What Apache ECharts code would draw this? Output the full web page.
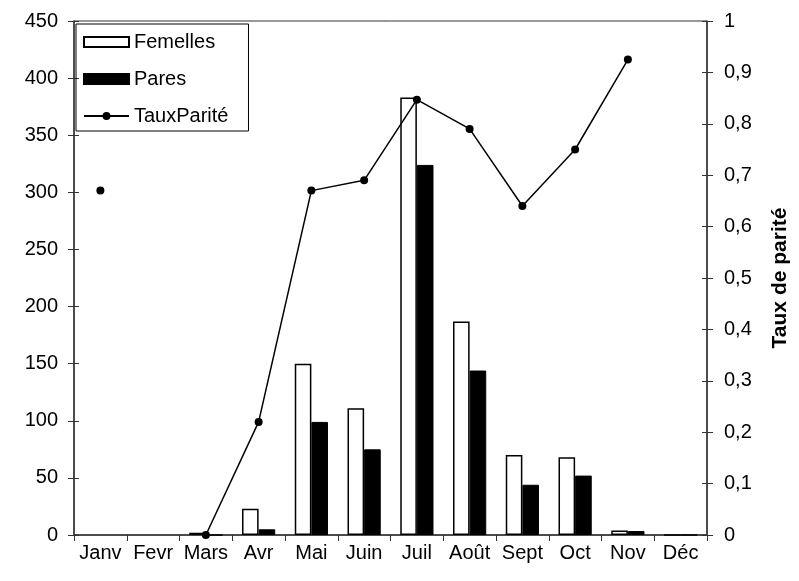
<!DOCTYPE html>
<html>
<head>
<meta charset="utf-8">
<script src="https://cdn.jsdelivr.net/npm/echarts@6/dist/echarts.min.js"></script>
<style>
  html, body { margin: 0; padding: 0; background: #fff; }
  #chart { width: 799px; height: 581px; }
</style>
</head>
<body>
<div id="chart"></div>
<script>
// données
var mois = ['Janv', 'Fevr', 'Mars', 'Avr', 'Mai', 'Juin', 'Juil', 'Août', 'Sept', 'Oct', 'Nov', 'Déc'];
var femelles = [null, null, 2, 23, 150, 111, 383, 187, 70, 68, 4, 0];
var pares = [null, null, 0, 5, 99, 75, 324, 144, 44, 52, 3.5, 0];
var tauxParite = [0.67, null, 0, 0.22, 0.67, 0.69, 0.847, 0.79, 0.64, 0.75, 0.925, null];

var police = 'Liberation Sans, Arial, sans-serif';

var myChart = echarts.init(document.getElementById('chart'));
myChart.setOption({
    animation: false,
    textStyle: { fontFamily: police },
    grid: {
        left: 74, right: 90, top: 21, bottom: 46,
        show: true, borderColor: '#333', borderWidth: 1
    },
    legend: {
        orient: 'vertical',
        left: 76, top: 24,
        padding: [8, 20, 5, 7],
        itemGap: 17,
        itemWidth: 45, itemHeight: 10,
        borderColor: '#000', borderWidth: 1,
        textStyle: { fontSize: 20, color: '#000', fontFamily: police },
        data: [
            { name: 'Femelles', icon: 'rect' },
            { name: 'Pares', icon: 'rect' },
            'TauxParité'
        ]
    },
    xAxis: {
        type: 'category',
        data: mois,
        axisLine: { lineStyle: { color: '#333', width: 1.5 } },
        axisTick: { show: true, length: 6, lineStyle: { color: '#333' } },
        axisLabel: { interval: 0, color: '#000', fontSize: 20, margin: 8 }
    },
    yAxis: [
        {
            type: 'value', min: 0, max: 450, interval: 50,
            splitLine: { show: false },
            axisLine: { show: true, lineStyle: { color: '#333', width: 1.5 } },
            axisTick: { show: true, length: 6, lineStyle: { color: '#333' } },
            axisLabel: { color: '#000', fontSize: 20, margin: 16 }
        },
        {
            type: 'value', min: 0, max: 1, interval: 0.1,
            position: 'right',
            splitLine: { show: false },
            axisLine: { show: true, lineStyle: { color: '#333', width: 1.5 } },
            axisTick: { show: true, length: 6, lineStyle: { color: '#333' } },
            axisLabel: {
                color: '#000', fontSize: 20, margin: 17,
                formatter: function (v) { return String(+v.toFixed(1)).replace('.', ','); }
            },
            name: 'Taux de parité',
            nameLocation: 'middle',
            nameRotate: 90,
            nameGap: 63,
            nameTextStyle: { fontSize: 21, fontWeight: 'bold', color: '#000', fontFamily: police }
        },
        {
            // petites graduations intérieures à gauche
            type: 'value', min: 0, max: 450, interval: 50,
            position: 'left',
            splitLine: { show: false },
            axisLine: { show: false },
            axisTick: { show: true, inside: true, length: 5, lineStyle: { color: '#333' } },
            axisLabel: { show: false }
        },
        {
            // petites graduations intérieures à droite
            type: 'value', min: 0, max: 1, interval: 0.1,
            position: 'right',
            splitLine: { show: false },
            axisLine: { show: false },
            axisTick: { show: true, inside: true, length: 5, lineStyle: { color: '#333' } },
            axisLabel: { show: false }
        }
    ],
    series: [
        {
            name: 'Femelles',
            type: 'bar',
            data: femelles,
            barGap: '0%',
            barCategoryGap: '37%',
            itemStyle: { color: '#fff', borderColor: '#000', borderWidth: 1.5 }
        },
        {
            name: 'Pares',
            type: 'bar',
            data: pares,
            itemStyle: { color: '#000', borderColor: '#000', borderWidth: 1 }
        },
        {
            name: 'TauxParité',
            type: 'line',
            yAxisIndex: 1,
            data: tauxParite,
            symbol: 'circle',
            symbolSize: 8,
            showAllSymbol: true,
            connectNulls: false,
            z: 5,
            lineStyle: { color: '#000', width: 1.5 },
            itemStyle: { color: '#000' }
        }
    ]
});
</script>
</body>
</html>
